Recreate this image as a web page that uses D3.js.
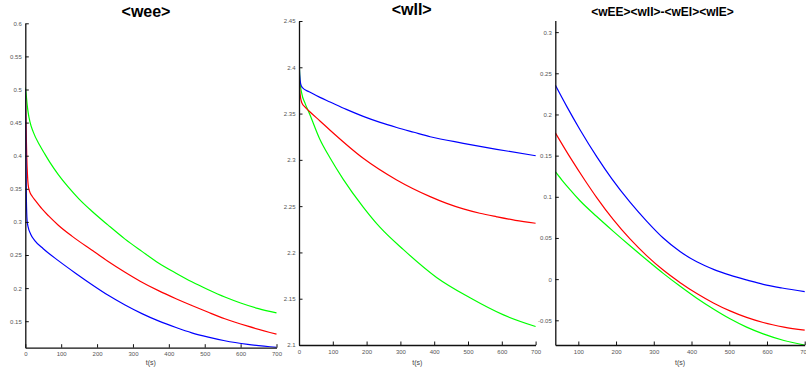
<!DOCTYPE html>
<html>
<head>
<meta charset="utf-8">
<script src="https://cdn.jsdelivr.net/npm/d3@7"></script>
<style>
  html, body { margin: 0; padding: 0; background: #fff; }
  svg { display: block; font-family: "Liberation Sans", Arial, sans-serif; }
</style>
</head>
<body>
<svg id="chart" width="806" height="371"></svg>
<script>
// ---- data: [t (s), value] pairs for each run ----
const weeGreen = [[0,0.503],[2,0.495],[5,0.478],[8,0.465],[13,0.451],[22,0.436],[41,0.415],[55,0.402],[69,0.3895],[92,0.3715],[120,0.3525],[150,0.3345],[185,0.3165],[230,0.2955],[278,0.274],[325,0.2555],[371,0.238],[420,0.2225],[464,0.2095],[510,0.1975],[556,0.1865],[600,0.1775],[650,0.169],[700,0.1625]];
const weeRed   = [[0,0.500],[2,0.45],[4,0.40],[6,0.372],[8,0.356],[12,0.346],[20,0.338],[27,0.333],[46,0.320],[65,0.309],[92,0.295],[130,0.2785],[185,0.2575],[230,0.2407],[278,0.2240],[320,0.2105],[371,0.1962],[420,0.184],[464,0.1738],[510,0.1635],[556,0.1537],[620,0.1425],[700,0.1305]];
const weeBlue  = [[0,0.500],[1,0.44],[2,0.38],[3,0.335],[5,0.302],[8,0.292],[15,0.2815],[27,0.2715],[50,0.2595],[92,0.2415],[140,0.2225],[185,0.2055],[230,0.1895],[278,0.1745],[325,0.1615],[371,0.1505],[420,0.1405],[464,0.1325],[510,0.126],[556,0.1205],[620,0.115],[700,0.1105]];

const wiiGreen = [[0,2.413],[3,2.385],[8,2.372],[18,2.361],[32,2.349],[62,2.322],[92,2.302],[131,2.279],[190,2.249],[240,2.227],[309,2.203],[407,2.173],[506,2.151],[605,2.1325],[700,2.120]];
const wiiRed   = [[0,2.413],[1,2.39],[3,2.372],[8,2.362],[18,2.357],[32,2.352],[62,2.342],[92,2.332],[190,2.3017],[289,2.2783],[388,2.2603],[437,2.2530],[486,2.2470],[535,2.2423],[585,2.2385],[640,2.2347],[700,2.2315]];
const wiiBlue  = [[0,2.413],[2,2.392],[5,2.382],[10,2.378],[30,2.3735],[62,2.3675],[92,2.3625],[140,2.3545],[190,2.347],[240,2.3405],[289,2.335],[340,2.3298],[388,2.325],[486,2.3179],[585,2.3114],[700,2.3045]];

const detGreen = [[39,0.1305],[56,0.1207],[78,0.1087],[104.5,0.0952],[148.8,0.0760],[192.8,0.0580],[237,0.0405],[281,0.0235],[325,0.0070],[370,-0.0087],[414,-0.0232],[458,-0.0363],[502,-0.0482],[546,-0.0583],[590,-0.0665],[645,-0.0745],[700,-0.080]];
const detRed   = [[39,0.1778],[80,0.1466],[117.8,0.1198],[148.8,0.0990],[192.8,0.0722],[237,0.0488],[281,0.0286],[325,0.0110],[370,-0.0043],[414,-0.0175],[458,-0.0289],[502,-0.0386],[546,-0.0465],[590,-0.0527],[645,-0.0582],[700,-0.0620]];
const detBlue  = [[39,0.2357],[70,0.2092],[104.5,0.1815],[150,0.1479],[188.5,0.1221],[237,0.0935],[281,0.0705],[325,0.0499],[369.5,0.0335],[414,0.0210],[460,0.0115],[502,0.0048],[550,-0.0015],[590,-0.0063],[640,-0.0108],[700,-0.0152]];

// ---- tick values ----
const timeTicks    = [0, 100, 200, 300, 400, 500, 600, 700];
const detTimeTicks = [100, 200, 300, 400, 500, 600, 700];
const weeTicks = [0.15, 0.2, 0.25, 0.3, 0.35, 0.4, 0.45, 0.5, 0.55, 0.6];
const wiiTicks = [2.1, 2.15, 2.2, 2.25, 2.3, 2.35, 2.4, 2.45];
const detTicks = [-0.05, 0, 0.05, 0.1, 0.15, 0.2, 0.25, 0.3];

const titles = ["<wee>", "<wII>", "<wEE><wII>-<wEI><wIE>"];
const xLabel = "t(s)";

const colors = { green: "#00ff00", red: "#ff0000", blue: "#0000ff" };

// ---- layout of the three panels ----
const panels = [
  { title: titles[0], titleX: 146, titleY: 16.5, titleSize: 16,
    xDomain: [0, 700], xRange: [25.3, 276.5],
    yDomain: [0.11, 0.6], yRange: [347.7, 23.3],
    xTicks: timeTicks, yTicks: weeTicks,
    series: [[weeGreen, colors.green], [weeRed, colors.red], [weeBlue, colors.blue]] },
  { title: titles[1], titleX: 411.7, titleY: 14.5, titleSize: 16,
    xDomain: [0, 700], xRange: [299, 535.6],
    yDomain: [2.1, 2.45], yRange: [345, 21],
    xTicks: timeTicks, yTicks: wiiTicks,
    series: [[wiiGreen, colors.green], [wiiRed, colors.red], [wiiBlue, colors.blue]] },
  { title: titles[2], titleX: 662.5, titleY: 16.3, titleSize: 12,
    xDomain: [39, 700], xRange: [555.3, 804.7],
    yDomain: [-0.08, 0.314], yRange: [345, 20.6],
    xTicks: detTimeTicks, yTicks: detTicks,
    series: [[detGreen, colors.green], [detRed, colors.red], [detBlue, colors.blue]] }
];

const svg = d3.select("#chart");
const fmt = d => String(+d.toFixed(3));

panels.forEach((p, i) => {
  const x = d3.scaleLinear().domain(p.xDomain).range(p.xRange);
  const y = d3.scaleLinear().domain(p.yDomain).range(p.yRange);
  const g = svg.append("g");

  const clipId = "clip" + i;
  svg.append("clipPath").attr("id", clipId)
    .append("rect")
    .attr("x", p.xRange[0]).attr("y", p.yRange[1] - 1)
    .attr("width", p.xRange[1] - p.xRange[0] + 1)
    .attr("height", p.yRange[0] - p.yRange[1] + 1);

  const line = d3.line()
    .x(d => x(d[0]))
    .y(d => y(d[1]))
    .curve(d3.curveMonotoneX);

  const lines = g.append("g").attr("clip-path", `url(#${clipId})`);
  p.series.forEach(([data, color]) => {
    lines.append("path")
      .datum(data)
      .attr("fill", "none")
      .attr("stroke", color)
      .attr("stroke-width", 1.2)
      .attr("d", line);
  });

  // axes with inward ticks
  const xAxis = d3.axisBottom(x).tickValues(p.xTicks).tickFormat(fmt)
    .tickSize(-3.5).tickPadding(4.5).tickSizeOuter(0);
  const yAxis = d3.axisLeft(y).tickValues(p.yTicks).tickFormat(fmt)
    .tickSize(-3.5).tickPadding(3.5).tickSizeOuter(0);

  const gx = g.append("g").attr("transform", `translate(0,${p.yRange[0]})`).call(xAxis);
  const gy = g.append("g").attr("transform", `translate(${p.xRange[0]},0)`).call(yAxis);

  [gx, gy].forEach(ax => {
    ax.select(".domain").attr("stroke", "#111").attr("stroke-width", 1.3);
    ax.selectAll(".tick line").attr("stroke", "#111").attr("stroke-width", 1);
    ax.selectAll(".tick text")
      .attr("fill", "#555")
      .style("font-size", "6px")
      .style("font-family", "'Liberation Sans', Arial, sans-serif");
  });

  g.append("text")
    .attr("x", (p.xRange[0] + p.xRange[1]) / 2)
    .attr("y", 365)
    .attr("text-anchor", "middle")
    .attr("fill", "#444")
    .style("font-size", "7px")
    .text(xLabel);

  g.append("text")
    .attr("x", p.titleX)
    .attr("y", p.titleY)
    .attr("text-anchor", "middle")
    .attr("fill", "#000")
    .style("font-weight", "bold")
    .style("font-size", p.titleSize + "px")
    .text(p.title);
});
</script>
</body>
</html>
